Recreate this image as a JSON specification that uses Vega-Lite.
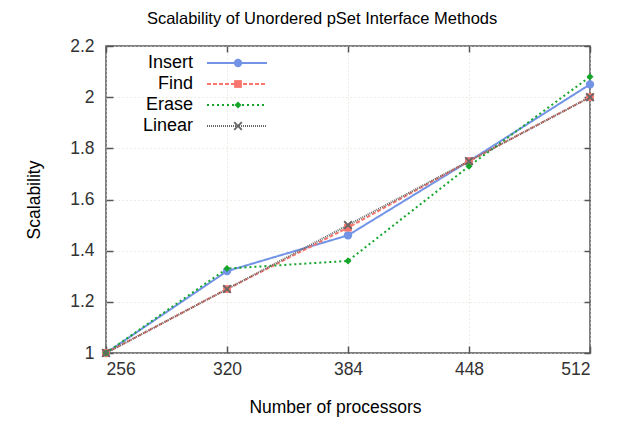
{
  "$schema": "https://vega.github.io/schema/vega-lite/v6.json",
  "width": 484,
  "height": 307,
  "padding": {"left": 25, "top": 10, "right": 16, "bottom": 4},
  "background": "white",
  "title": {"text": "Scalability of Unordered pSet Interface Methods", "font": "Liberation Sans", "fontSize": 16.5, "fontWeight": "normal", "color": "#000", "anchor": "middle", "frame": "bounds", "offset": 10, "dx": 12},
  "config": {
    "view": {"stroke": "#555", "strokeWidth": 1.5},
    "font": "Liberation Sans",
    "axis": {"labelFont": "Liberation Sans", "titleFont": "Liberation Sans", "labelFontSize": 17.5, "titleFontSize": 17.5, "titleFontWeight": "normal", "labelColor": "#333", "titleColor": "#000", "grid": true, "gridColor": "#dcd8c8", "gridDash": [1, 3], "gridWidth": 1, "domain": false, "tickColor": "#555", "tickWidth": 1.5, "tickSize": -7}
  },
  "data": {"values": [
    {"p": 256, "s": 1.0, "series": "Insert"},
    {"p": 320, "s": 1.32, "series": "Insert"},
    {"p": 384, "s": 1.46, "series": "Insert"},
    {"p": 448, "s": 1.75, "series": "Insert"},
    {"p": 512, "s": 2.05, "series": "Insert"},
    {"p": 256, "s": 1.0, "series": "Find"},
    {"p": 320, "s": 1.25, "series": "Find"},
    {"p": 384, "s": 1.49, "series": "Find"},
    {"p": 448, "s": 1.75, "series": "Find"},
    {"p": 512, "s": 2.0, "series": "Find"},
    {"p": 256, "s": 1.0, "series": "Erase"},
    {"p": 320, "s": 1.33, "series": "Erase"},
    {"p": 384, "s": 1.36, "series": "Erase"},
    {"p": 448, "s": 1.73, "series": "Erase"},
    {"p": 512, "s": 2.08, "series": "Erase"},
    {"p": 256, "s": 1.0, "series": "Linear"},
    {"p": 320, "s": 1.25, "series": "Linear"},
    {"p": 384, "s": 1.5, "series": "Linear"},
    {"p": 448, "s": 1.75, "series": "Linear"},
    {"p": 512, "s": 2.0, "series": "Linear"}
  ]},
  "resolve": {"axis": {"x": "independent", "y": "independent"}},
  "layer": [
    {"mark": {"type": "line", "strokeWidth": 2},
     "encoding": {
       "x": {"field": "p", "type": "quantitative", "scale": {"domain": [256, 512], "nice": false, "zero": false}, "axis": {"values": [256, 320, 384, 448, 512], "title": "Number of processors", "titlePadding": 21, "labelPadding": 14, "titleX": 229}},
       "y": {"field": "s", "type": "quantitative", "scale": {"domain": [1, 2.2], "nice": false, "zero": false}, "axis": {"values": [1, 1.2, 1.4, 1.6, 1.8, 2, 2.2], "title": "Scalability", "titlePadding": 26, "labelPadding": 19, "format": "~g"}},
       "color": {"field": "series", "type": "nominal", "scale": {"domain": ["Insert", "Find", "Erase", "Linear"], "range": ["#7393e6", "#f8766d", "#14a52a", "#666666"]},
         "legend": {"orient": "none", "legendX": 122, "legendY": 8, "padding": 0, "title": null, "symbolType": "M-5,0L5,0", "symbolSize": 144, "symbolStrokeWidth": 2, "labelFontSize": 18, "labelFont": "Liberation Sans", "labelColor": "#000", "rowPadding": 3, "labelAlign": "right", "labelOffset": -53}},
       "strokeDash": {"field": "series", "type": "nominal", "scale": {"domain": ["Insert", "Find", "Erase", "Linear"], "range": [[1, 0], [4, 2], [2, 3], [1, 1]]}}
     }},
    {"mark": {"type": "point", "filled": true, "opacity": 1},
     "encoding": {
       "x": {"field": "p", "type": "quantitative", "axis": {"orient": "top", "values": [256, 320, 384, 448, 512], "labels": false, "title": null, "grid": false, "tickSize": -6}},
       "y": {"field": "s", "type": "quantitative", "axis": {"orient": "right", "values": [1, 1.2, 1.4, 1.6, 1.8, 2, 2.2], "labels": false, "title": null, "grid": false, "tickSize": -6}},
       "fill": {"field": "series", "type": "nominal", "scale": {"domain": ["Erase", "Find", "Insert", "Linear"], "range": ["#14a52a", "#f8766d", "#7393e6", "#666666"]},
         "legend": {"orient": "none", "legendX": 123, "legendY": 8, "padding": 0, "title": null, "values": ["Insert", "Find", "Erase", "Linear"], "labelFontSize": 18, "labelOpacity": 0, "rowPadding": 3, "symbolStrokeWidth": 0}},
       "shape": {"field": "series", "type": "nominal", "scale": {"domain": ["Erase", "Find", "Insert", "Linear"], "range": ["diamond", "square", "circle", "M-1,-0.7L-0.7,-1L0,-0.3L0.7,-1L1,-0.7L0.3,0L1,0.7L0.7,1L0,0.3L-0.7,1L-1,0.7L-0.3,0Z"]},
         "legend": {"orient": "none", "legendX": 123, "legendY": 8, "padding": 0, "title": null, "values": ["Insert", "Find", "Erase", "Linear"], "labelFontSize": 18, "labelOpacity": 0, "rowPadding": 3, "symbolStrokeWidth": 0}},
       "size": {"field": "series", "type": "nominal", "scale": {"domain": ["Erase", "Find", "Insert", "Linear"], "range": [50, 80, 70, 80]},
         "legend": {"orient": "none", "legendX": 123, "legendY": 8, "padding": 0, "title": null, "values": ["Insert", "Find", "Erase", "Linear"], "labelFontSize": 18, "labelOpacity": 0, "rowPadding": 3, "symbolStrokeWidth": 0}}
     }}
  ]
}
